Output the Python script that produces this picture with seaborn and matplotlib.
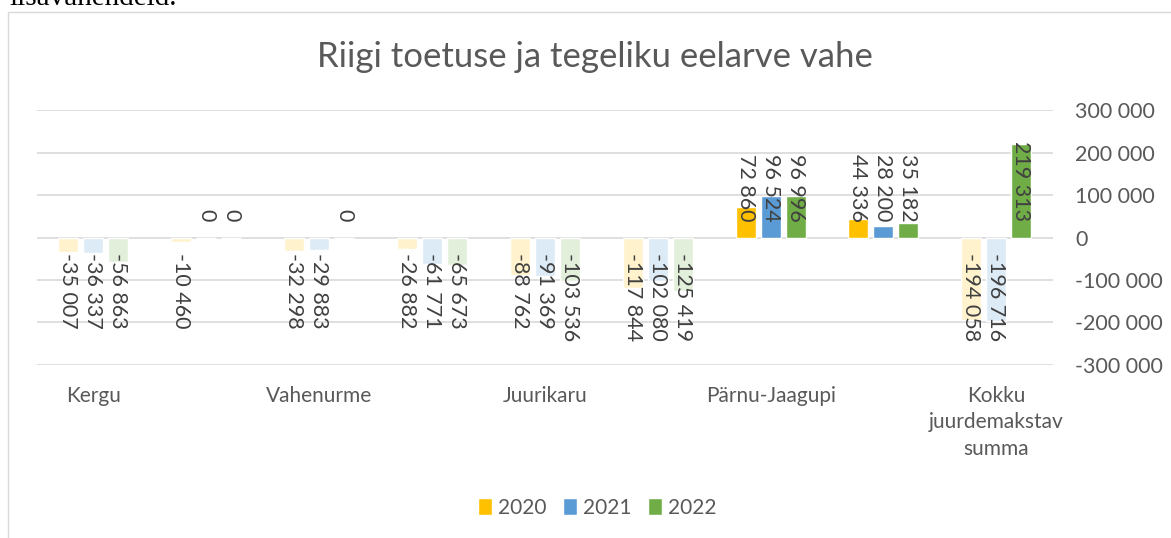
import seaborn as sns
import matplotlib.pyplot as plt
import pandas as pd
import numpy as np
from matplotlib.patches import Patch, Rectangle
from matplotlib.ticker import FuncFormatter

# andmed (loetud pildilt)
kohad = ["Kergu", "", "Vahenurme", "", "Juurikaru", "", "Pärnu-Jaagupi", "",
         "Kokku\njuurdemakstav\nsumma"]
aastad = ["2020", "2021", "2022"]
v2020 = [-35007, -10460, -32298, -26882, -88762, -117844, 72860, 44336, -194058]
v2021 = [-36337, 0, -29883, -61771, -91369, -102080, 96524, 28200, -196716]
v2022 = [-56863, 0, 0, -65673, -103536, -125419, 96996, 35182, 219313]

varvid = {"2020": "#FFC000", "2021": "#5B9BD5", "2022": "#70AD47"}
heledad = {"2020": "#FFF2CC", "2021": "#DDEBF7", "2022": "#E2EFDA"}
hall = "#595959"

rows = []
for aasta, vals in zip(aastad, [v2020, v2021, v2022]):
    for i, v in enumerate(vals):
        rows.append({"nr": i, "aasta": aasta, "vahe": v})
df = pd.DataFrame(rows)

sns.set_theme(style="white")
plt.rcParams["font.family"] = ["Lato", "DejaVu Sans"]

fig = plt.figure(figsize=(11.71, 5.38), dpi=100)
ax = fig.add_axes([0.0316, 0.3216, 0.8674, 0.4739])

sns.barplot(data=df, x="nr", y="vahe", hue="aasta", palette=varvid,
            width=0.664, gap=0.2, ax=ax, legend=False, saturation=1,
            errorbar=None, zorder=3)

# negatiivsed tulbad heledamaks, sildid tulba alusele
for cont, aasta in zip(ax.containers, aastad):
    for bar in cont:
        h = bar.get_height()
        if h < 0:
            bar.set_facecolor(heledad[aasta])
        xc = bar.get_x() + bar.get_width() / 2
        txt = f"{h:,.0f}".replace(",", " ")
        if h < 0:
            ax.annotate(txt, (xc, 0), xytext=(0, -11.5), textcoords="offset points",
                        rotation=-90, ha="center", va="top", fontsize=15.5,
                        color="#404040", zorder=4)
        else:
            ax.annotate(txt, (xc, 0), xytext=(0, 11.5), textcoords="offset points",
                        rotation=-90, ha="center", va="bottom", fontsize=15.5,
                        color="#404040", zorder=4)

ax.set_ylim(-300000, 300000)
ax.set_yticks(np.arange(-300000, 300001, 100000))
ax.yaxis.set_major_formatter(FuncFormatter(lambda v, p: f"{v:,.0f}".replace(",", " ")))
ax.yaxis.tick_right()
ax.set_xlim(-0.5, 8.5)
ax.set_xticks(range(len(kohad)))
ax.set_xticklabels(kohad, linespacing=1.4)
ax.tick_params(axis="y", length=0, pad=16, labelsize=15.5, labelcolor=hall)
ax.tick_params(axis="x", length=0, pad=15, labelsize=15, labelcolor=hall)
ax.set_xlabel("")
ax.set_ylabel("")
ax.grid(axis="y", color="#D9D9D9", lw=1.2, zorder=0)
for s in ax.spines.values():
    s.set_visible(False)

fig.text(0.508, 0.894, "Riigi toetuse ja tegeliku eelarve vahe", ha="center",
         va="center", fontsize=25, color=hall)

handles = [Patch(facecolor=varvid[a]) for a in aastad]
fig.legend(handles, aastad, loc="center", bbox_to_anchor=(0.51, 0.056), ncol=3,
           frameon=False, fontsize=15, handlelength=0.65, handleheight=0.9,
           handletextpad=0.3, columnspacing=0.8, labelcolor=hall)

# diagrammi raam ja lõigatud tekst üleval
fig.add_artist(Rectangle((0.0068, -0.05), 1.1, 1.0277, transform=fig.transFigure,
                         fill=False, edgecolor="#D9D9D9", lw=1))
fig.text(0.008, 1 - 5 / 538, "ilsavahendeid.", va="baseline", ha="left",
         family="Liberation Serif", fontsize=21, color="black")

fig.savefig("out.png", dpi=100)
